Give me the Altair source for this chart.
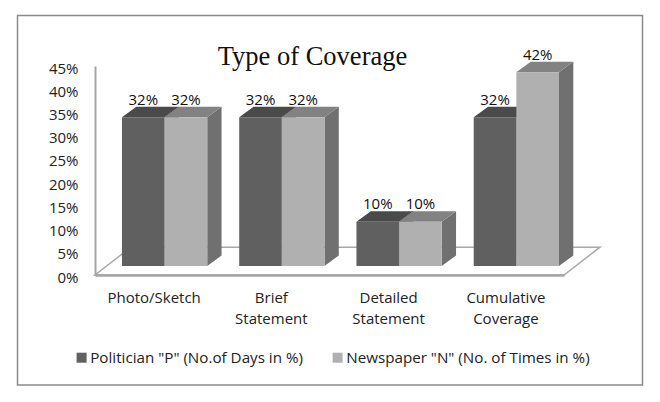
import altair as alt
import pandas as pd

categories = ["Photo/Sketch", "Brief\nStatement", "Detailed\nStatement", "Cumulative\nCoverage"]
politician = [32, 32, 9.5, 32]
newspaper = [32, 32, 9.5, 41.7]
politician_labels = ["32%", "32%", "10%", "32%"]
newspaper_labels = ["32%", "32%", "10%", "42%"]
y_ticks = [0, 5, 10, 15, 20, 25, 30, 35, 40, 45]
series_names = ['Politician "P" (No.of Days in %)', 'Newspaper "N" (No. of Times in %)']
title_text = "Type of Coverage"

# depth of the pseudo-3D projection, in axis units
BAR_LEFT, BAR_W, DX, DY, BASE = 0.23, 0.3636, 0.122, 2.26, 1.94
FLOOR_DX, FLOOR_DY = 0.307, 6.0

front, top, side, labels = [], [], [], []
for s, (vals, labs) in enumerate([(politician, politician_labels), (newspaper, newspaper_labels)]):
    for i, (v, lab) in enumerate(zip(vals, labs)):
        x0 = i + BAR_LEFT + s * BAR_W
        x1 = x0 + BAR_W
        t = v + BASE
        key = f"{s}-{i}"
        front.append(dict(series=series_names[s], x0=x0, x1=x1, y0=BASE, y1=t, s=s))
        top += [dict(key=key, y=t, xa=x0, xb=x1, s=s), dict(key=key, y=t + DY, xa=x0 + DX, xb=x1 + DX, s=s)]
        side += [dict(key=key, x=x1, ya=BASE, yb=t, s=s), dict(key=key, x=x1 + DX, ya=BASE + DY, yb=t + DY, s=s)]
        labels.append(dict(x=(x0 + x1) / 2, y=t + DY, text=lab))

front, top, side, labels = map(pd.DataFrame, (front, top, side, labels))
floor = pd.DataFrame([
    dict(y=0, xa=0, xb=len(categories)),
    dict(y=FLOOR_DY, xa=FLOOR_DX, xb=len(categories) + FLOOR_DX),
])
frame = pd.DataFrame({"k": [0]})

FONT = "Open Sans"
xs = alt.Scale(domain=[0, 4], nice=False, zero=False)
ys = alt.Scale(domain=[0, 45], nice=False, zero=False)

cat_js = "[" + ",".join("'" + c.replace("\n", "|") + "'" for c in categories) + "]"
y_axis = alt.Axis(
    values=y_ticks, labelExpr="datum.value + '%'", ticks=False, grid=False, title=None, zindex=1,
    domainColor="#a6a6a6", domainWidth=2, labelFont=FONT, labelFontSize=15,
    labelColor="#222222", labelPadding=17, labelOffset=2)
x_axis = alt.Axis(
    values=[0.5, 1.5, 2.5, 3.5],
    labelExpr=f"split({cat_js}[floor(datum.value)], '|')",
    ticks=False, grid=False, title=None, zindex=1, domainColor="#a6a6a6", domainWidth=2.5,
    labelFont=FONT, labelFontSize=15, labelColor="#222222", labelPadding=15,
    labelLineHeight=21, labelAngle=0)
X = lambda f: alt.X(f, type="quantitative", scale=xs, axis=x_axis, title=None)
Y = lambda f: alt.Y(f, type="quantitative", scale=ys, axis=y_axis, title=None)

frame_layer = alt.Chart(frame).mark_rect(fill="white", stroke="#8a8a8a", strokeWidth=1.5).encode(
    x=alt.value(-77.5), x2=alt.value(547.5), y=alt.value(-50.5), y2=alt.value(319)
)
floor_layer = alt.Chart(floor).mark_area(
    orient="horizontal", fill="white", stroke="#a8a8a8", strokeWidth=1.5
).encode(y=Y("y"), x=X("xa"), x2="xb:Q")

top_layer = alt.Chart(top).mark_area(orient="horizontal").encode(
    y=Y("y"), x=X("xa"), x2="xb:Q", detail="key:N",
    color=alt.Color("s:N", scale=alt.Scale(domain=[0, 1], range=["#4a4a4a", "#828282"]), legend=None),
)
side_layer = alt.Chart(side).mark_area(color="#707070").encode(
    x=X("x"), y=Y("ya"), y2="yb:Q", detail="key:N",
)
front_layer = alt.Chart(front).mark_rect().encode(
    x=X("x0"), x2="x1:Q", y=Y("y0"), y2="y1:Q",
    fill=alt.Fill("series:N",
        scale=alt.Scale(domain=series_names, range=["#606060", "#b0b0b0"]),
        legend=alt.Legend(
            orient="none", legendX=-21, legendY=284, direction="horizontal", columns=2,
            title=None, symbolType="square", symbolSize=100, symbolStrokeWidth=0,
            labelFont=FONT, labelFontSize=15.2, labelColor="#222222", labelLimit=400,
            labelOffset=1, columnPadding=27)),
)
label_layer = alt.Chart(labels).mark_text(
    font=FONT, fontSize=15, color="#111111", baseline="alphabetic", dy=-2
).encode(x=X("x"), y=Y("y"), text="text:N")

chart = alt.layer(
    frame_layer, floor_layer, side_layer, top_layer, front_layer, label_layer
).resolve_scale(color="independent", fill="independent").properties(
    width=469, height=209,
    autosize=alt.AutoSizeParams(type="none"),
    padding={"left": 87, "top": 58, "right": 88, "bottom": 119},
    title=alt.TitleParams(
        title_text, font="Liberation Serif", fontSize=26.5, fontWeight="normal", color="#111111",
        anchor="middle", dx=-17, dy=60,
    ),
).configure_view(stroke=None)

chart.save("out.html", embed_options={"renderer": "svg", "actions": False})
